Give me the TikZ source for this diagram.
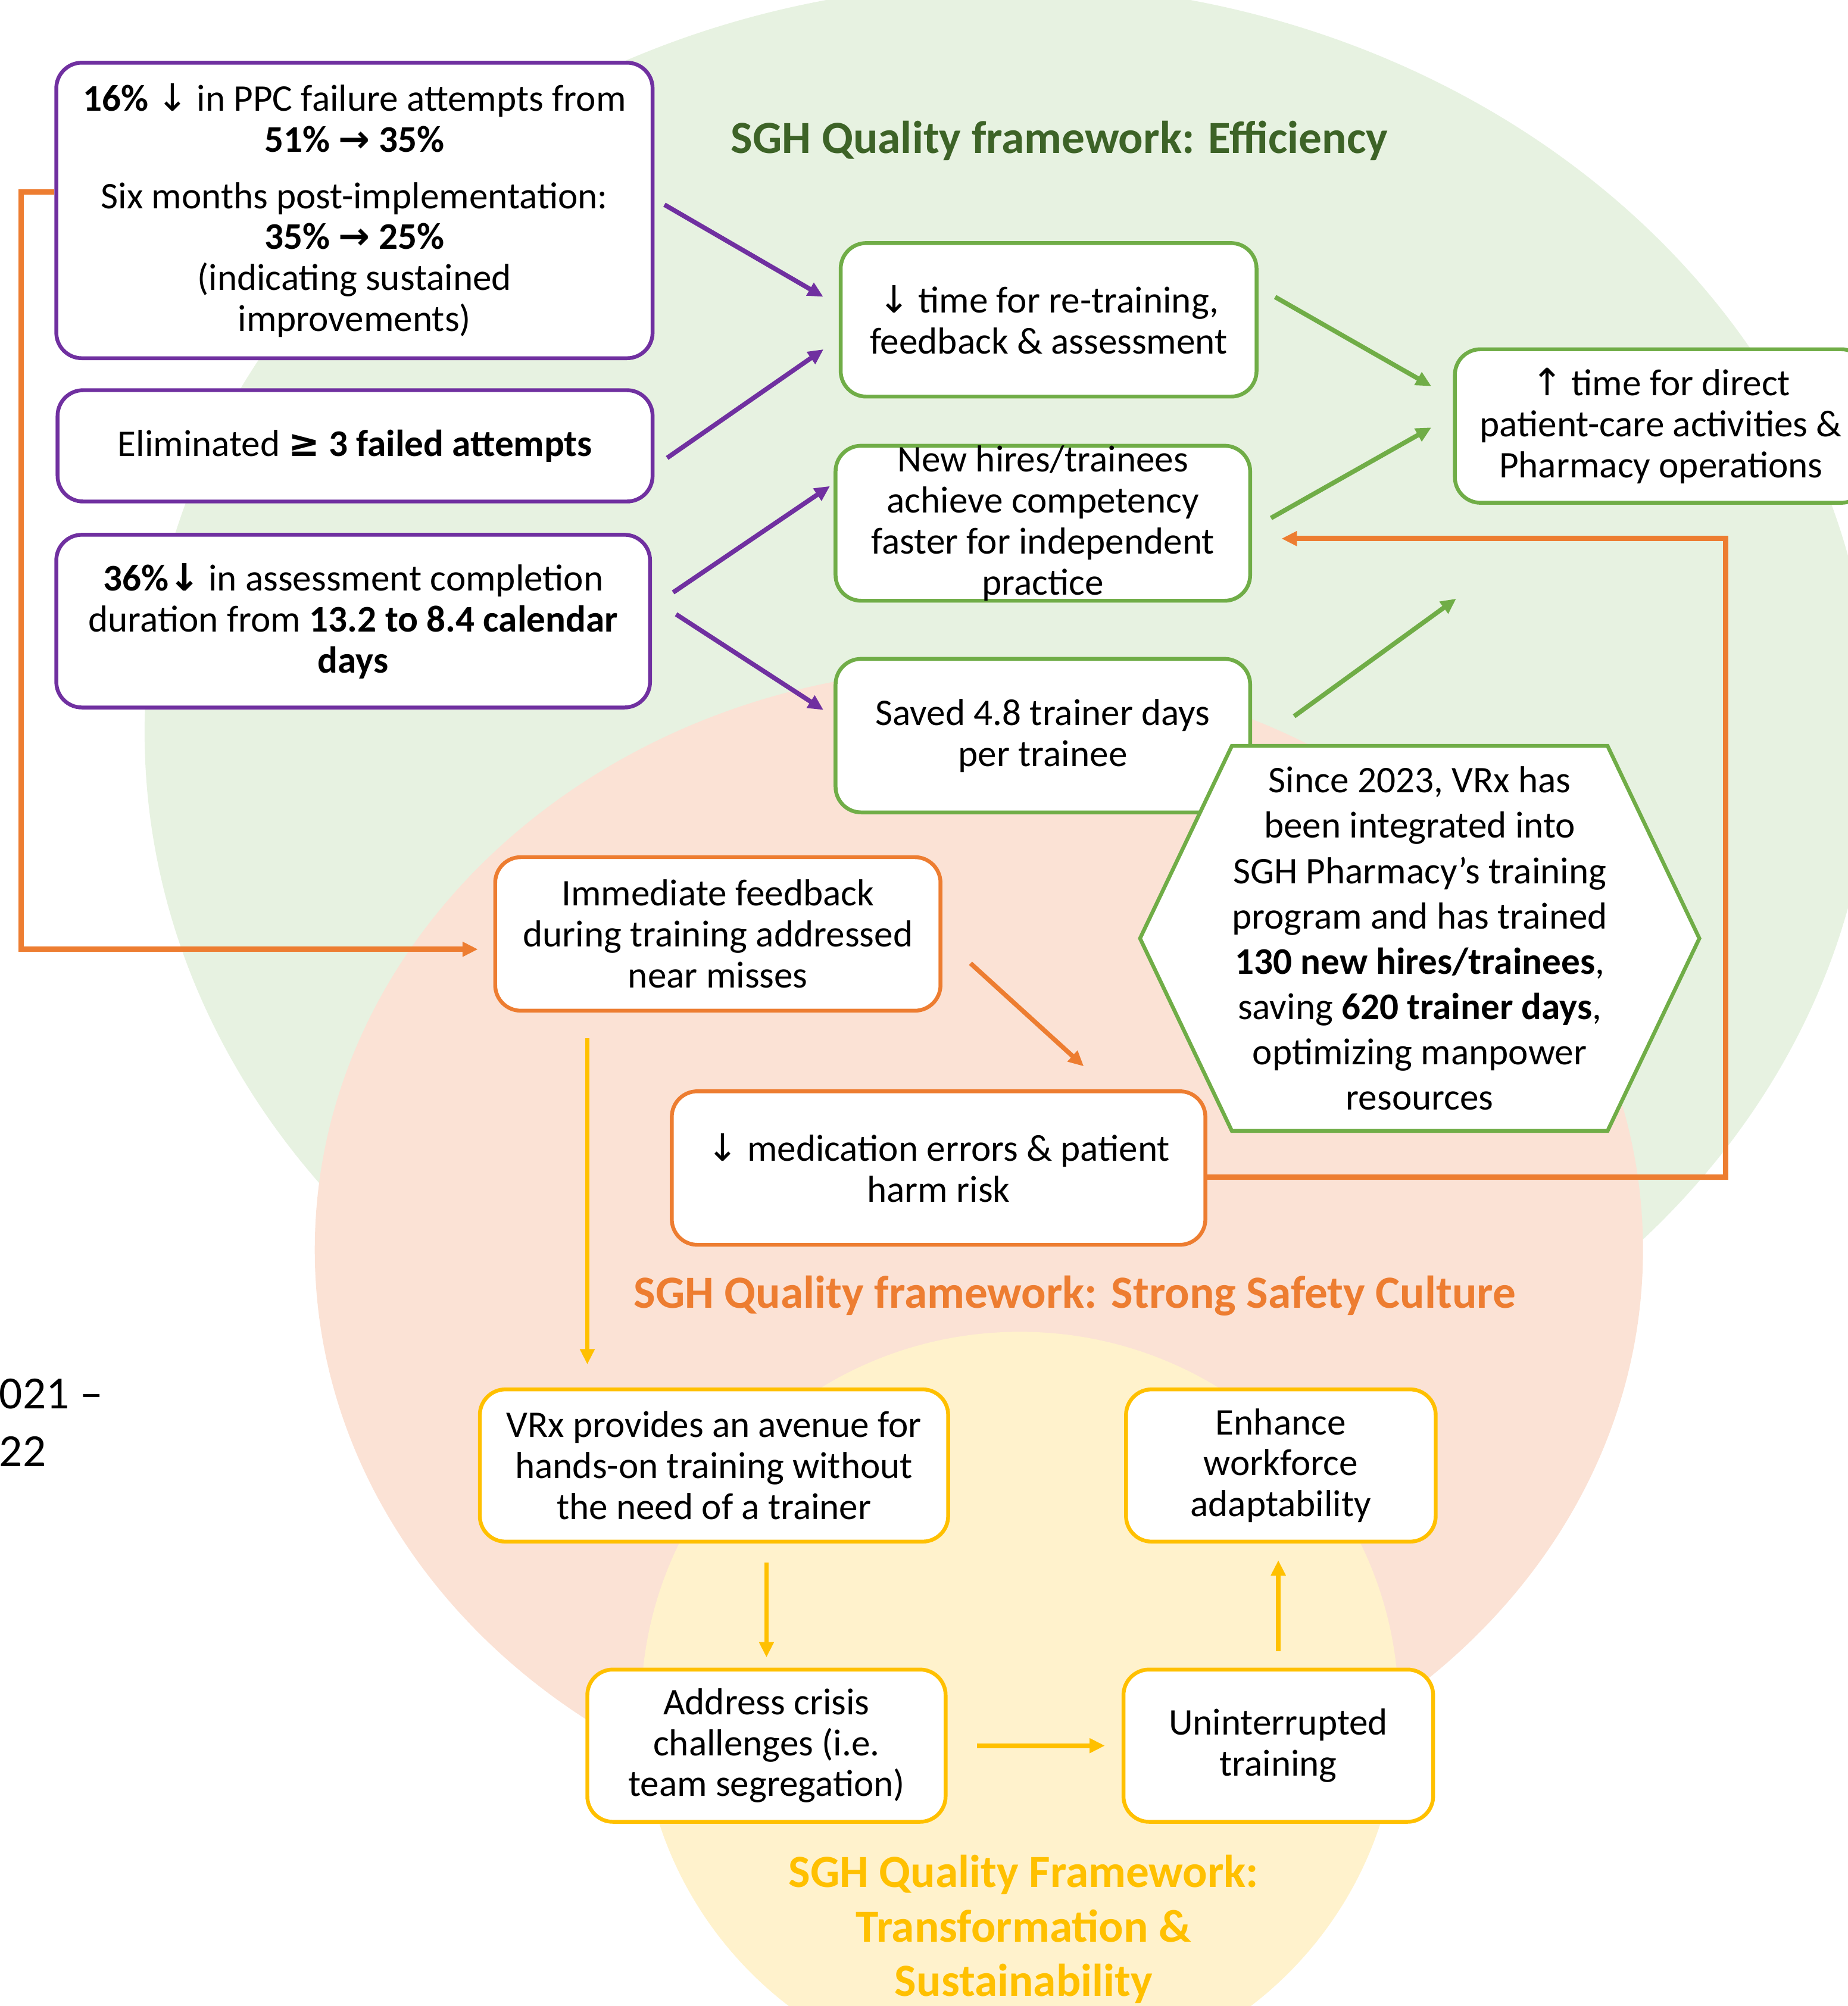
\documentclass[tikz,border=0pt]{standalone}
\usepackage{fontspec}
\setmainfont{Carlito}
\newfontfamily\symfont{DejaVu Sans}[Scale=1.0]
\usetikzlibrary{arrows.meta,shapes.symbols}

\definecolor{effline}{HTML}{70AD47}
\definecolor{efftext}{HTML}{3D6327}
\definecolor{effbg}{HTML}{E7F2E1}
\definecolor{safeline}{HTML}{ED7D31}
\definecolor{safebg}{HTML}{FBE2D5}
\definecolor{transline}{HTML}{FFC000}
\definecolor{transbg}{HTML}{FFF2CC}
\definecolor{vrxline}{HTML}{7030A0}

\tikzset{
  box/.style={draw, line width=3pt, rounded corners=20pt, fill=white, align=center,
    inner sep=0pt, font=\fontsize{29.4}{32}\selectfont},
  purpbox/.style={box, draw=vrxline},
  greenbox/.style={box, draw=effline},
  orgbox/.style={box, draw=safeline},
  yelbox/.style={box, draw=transline},
  title/.style={font=\fontsize{36}{42.5}\selectfont\bfseries, align=center},
  link/.style={line width=3.6pt, -{Triangle[length=12pt,width=11pt]}},
  purplink/.style={link, vrxline},
  greenlink/.style={link, effline},
  orglink/.style={link, safeline},
  yellink/.style={link, transline},
}

\begin{document}
\begin{tikzpicture}[x=1pt, y=-1pt]
  \useasboundingbox (0,0) rectangle (1444,1568);

  % framework areas: efficiency, safety culture, transformation
  \fill[effbg]   (788,572)  ellipse [x radius=675, y radius=585];
  \fill[safebg]  (765,977)  ellipse [x radius=519, y radius=455];
  \fill[transbg] (797,1335) ellipse [x radius=296, y radius=294];

  % framework titles
  \node[title, text=efftext]    (effT)   at (828,110)  {SGH Quality framework: Efficiency};
  \node[title, text=safeline]   (safeT)  at (840,1013) {SGH Quality framework: Strong Safety Culture};
  \node[title, text=transline]  (transT) at (800,1508) {SGH Quality Framework:\\Transformation \&\\Sustainability};
  \node[anchor=west, align=left, font=\fontsize{36}{45}\selectfont] (yrs) at (-4,1112) {021 –\\22};

  % outcomes (purple)
  \node[purpbox, minimum width=466, minimum height=231] (ppc) at (277,164.5)
    {{\bfseries 16\%} {\symfont ↓} in PPC failure attempts from\\
     {\bfseries 51\% {\symfont →} 35\%}\\[12pt]
     Six months post-implementation:\\
     {\bfseries 35\% {\symfont →} 25\%}\\
     (indicating sustained\\
     improvements)};
  \node[purpbox, minimum width=465, minimum height=87] (elim) at (277.5,348.5)
    {Eliminated {\bfseries{\symfont ≥} 3 failed attempts}};
  \node[purpbox, minimum width=464, minimum height=135] (dur) at (276,485.5)
    {{\bfseries 36\%{\symfont ↓}} in assessment completion\\
     duration from {\bfseries 13.2 to 8.4 calendar}\\
     {\bfseries days}};

  % efficiency (green)
  \node[greenbox, minimum width=325, minimum height=120] (retrain) at (819.5,250)
    {{\symfont ↓} time for re-training,\\feedback \& assessment};
  \node[greenbox, minimum width=324, minimum height=120] (comp) at (815,409)
    {New hires/trainees\\achieve competency\\faster for independent\\practice};
  \node[greenbox, minimum width=324, minimum height=120] (saved) at (815,575)
    {Saved 4.8 trainer days\\per trainee};
  \node[greenbox, minimum width=322, minimum height=120] (care) at (1298,333)
    {{\symfont ↑} time for direct\\patient-care activities \&\\Pharmacy operations};
  \node[draw=effline, line width=3pt, fill=white, shape=signal, signal to=east and west,
    signal pointer angle=129, minimum width=433, minimum height=301, inner sep=0pt,
    align=center, font=\fontsize{29.4}{35.4}\selectfont] (since) at (1109.5,733.5)
    {Since 2023, VRx has\\been integrated into\\SGH Pharmacy’s training\\program and has trained\\
     {\bfseries 130 new hires/trainees},\\saving {\bfseries 620 trainer days},\\optimizing manpower\\resources};
  \coordinate (careIn) at (1138,468);

  % safety culture (orange)
  \node[orgbox, minimum width=348, minimum height=120] (feedb) at (561,730)
    {Immediate feedback\\during training addressed\\near misses};
  \node[orgbox, minimum width=417, minimum height=120] (harm) at (733.5,913)
    {{\symfont ↓} medication errors \& patient\\harm risk};

  % transformation (yellow)
  \node[yelbox, minimum width=366, minimum height=119] (avenue) at (558,1145.5)
    {VRx provides an avenue for\\hands-on training without\\the need of a trainer};
  \node[yelbox, minimum width=242, minimum height=119] (adapt) at (1001,1145.5)
    {Enhance\\workforce\\adaptability};
  \node[yelbox, minimum width=280, minimum height=119] (crisis) at (599,1364.5)
    {Address crisis\\challenges (i.e.\\team segregation)};
  \node[yelbox, minimum width=242, minimum height=119] (unint) at (999,1364.5)
    {Uninterrupted\\training};

  % purple links
  \draw[purplink, shorten <=9pt, shorten >=14pt] ([yshift=9pt]ppc.east) -- ([yshift=11pt]retrain.west);
  \draw[purplink, shorten <=12pt, shorten >=14.5pt] ([yshift=-16.3pt]elim.east) -- ([yshift=-14.8pt]retrain.west);
  \draw[purplink, shorten <=20pt, shorten >=3.5pt] ([yshift=11.2pt]dur.east) -- ([yshift=31pt]comp.west);
  \draw[purplink, shorten <=22.5pt, shorten >=9.5pt] ([yshift=17.6pt]dur.east) -- ([yshift=14.9pt]saved.west);

  % green links
  \draw[greenlink, shorten <=15pt, shorten >=19.5pt] ([yshift=25.3pt]retrain.east) -- ([yshift=21.5pt]care.west);
  \draw[greenlink, shorten <=17pt, shorten >=19.4pt] ([yshift=-4.3pt]comp.east) -- ([yshift=8.4pt]care.west);
  \draw[greenlink, shorten <=40.6pt] ([yshift=-8.7pt]saved.east) -- (careIn);

  % orange links
  \draw[orglink, line width=4.3pt, shorten >=12pt] ([yshift=14.5pt]ppc.west) -- ++(-26,0) |- ([yshift=-12pt]feedb.west);
  \draw[orglink, shorten <=29.7pt, shorten >=26.8pt] ([yshift=-3pt]feedb.east) -- ([xshift=133.3pt]harm.north);
  \draw[orglink, line width=4.3pt, shorten >=23pt] ([yshift=-7pt]harm.east) -- ++(405,0) |- ([yshift=-12pt]comp.east);

  % yellow links
  \draw[yellink, shorten <=20pt, shorten >=18pt] ([xshift=-102pt]feedb.south) -- ([xshift=-102pt]feedb.south |- avenue.north);
  \draw[yellink, shorten <=15pt, shorten >=8pt] (avenue.south -| crisis.north) -- (crisis.north);
  \draw[yellink, shorten <=23pt, shorten >=13pt] (crisis.east) -- (unint.west);
  \draw[yellink, shorten <=13pt, shorten >=13pt] (unint.north) -- (unint.north |- adapt.south);
\end{tikzpicture}
\end{document}
